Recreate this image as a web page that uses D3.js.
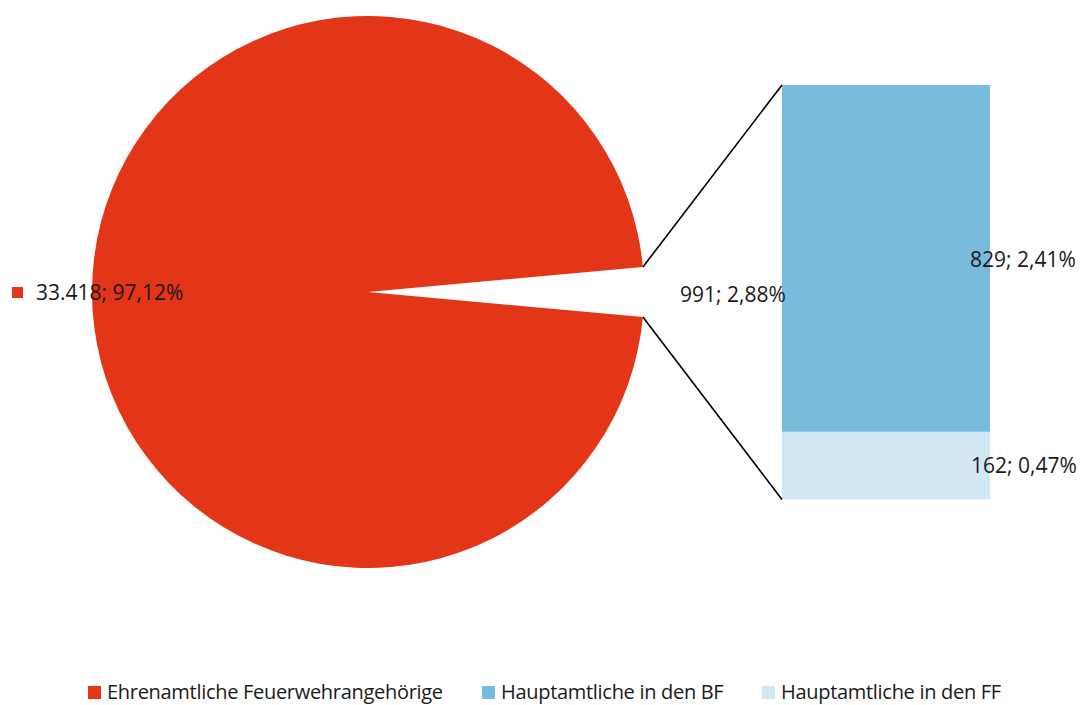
<!DOCTYPE html>
<html>
<head>
<meta charset="utf-8">
<script src="https://cdn.jsdelivr.net/npm/d3@7"></script>
<style>
  html, body { margin: 0; padding: 0; background: #fff; }
  svg { display: block; }
  text { font-family: "Open Sans", "Noto Sans", sans-serif; fill: #1a1a1a; }
</style>
</head>
<body>
<svg id="chart" width="1081" height="705"></svg>
<script>
// Feuerwehrangehörige: Ehrenamtliche vs. Hauptamtliche (BF / FF)
const pieCategories = ["Ehrenamtliche Feuerwehrangehörige", "Hauptamtliche"];
const pieValues = [33418, 991];
const pieLabels = ["33.418; 97,12%", "991; 2,88%"];

const barCategories = ["Hauptamtliche in den FF", "Hauptamtliche in den BF"];
const barValues = [162, 829];
const barLabels = ["162; 0,47%", "829; 2,41%"];

const legendLabels = ["Ehrenamtliche Feuerwehrangehörige", "Hauptamtliche in den BF", "Hauptamtliche in den FF"];
const colors = {
  "Ehrenamtliche Feuerwehrangehörige": "#e33618",
  "Hauptamtliche in den BF": "#78bbdd",
  "Hauptamtliche in den FF": "#d2e7f4"
};

const svg = d3.select("#chart");
const cx = 368, cy = 292, r = 276;

// Pie: the small slice is centred on the right and split out into the bar
const total = d3.sum(pieValues);
const smallFrac = pieValues[1] / total;
const start = Math.PI / 2 + smallFrac * Math.PI;
const pie = d3.pie().sort(null).startAngle(start).endAngle(start + 2 * Math.PI);
const arcs = pie(pieValues);
const arc = d3.arc().innerRadius(0).outerRadius(r);

const g = svg.append("g").attr("transform", `translate(${cx},${cy})`);
g.append("path")
  .attr("d", arc(arcs[0]))
  .attr("fill", colors[pieCategories[0]]);

// Bar of pie
const barX = 782, barW = 208;
const y = d3.scaleLinear().domain([0, d3.sum(barValues)]).range([499.5, 85]);
let acc = 0;
const stacks = barValues.map((v, i) => {
  const s = { cat: barCategories[i], y0: acc, y1: acc + v, label: barLabels[i] };
  acc += v;
  return s;
});
svg.selectAll("rect.seg").data(stacks).join("rect")
  .attr("class", "seg")
  .attr("x", barX)
  .attr("width", barW)
  .attr("y", d => y(d.y1))
  .attr("height", d => y(d.y0) - y(d.y1))
  .attr("fill", d => colors[d.cat]);

// Connector lines from the cut-out slice to the bar
const small = arcs[1];
const pt = a => [cx + r * Math.sin(a), cy - r * Math.cos(a)];
const a1 = pt(small.startAngle), a2 = pt(small.endAngle);
const upper = a1[1] < a2[1] ? a1 : a2;
const lower = a1[1] < a2[1] ? a2 : a1;
svg.append("line").attr("x1", upper[0]).attr("y1", upper[1])
  .attr("x2", barX).attr("y2", y(d3.sum(barValues)))
  .attr("stroke", "#000").attr("stroke-width", 1.6);
svg.append("line").attr("x1", lower[0]).attr("y1", lower[1])
  .attr("x2", barX).attr("y2", y(0))
  .attr("stroke", "#000").attr("stroke-width", 1.6);

// Data labels
const fs = 21;
svg.append("rect").attr("x", 12).attr("y", 287).attr("width", 11).attr("height", 11)
  .attr("fill", colors[pieCategories[0]]);
svg.append("text").attr("x", 36).attr("y", 300).attr("font-size", fs).text(pieLabels[0]);
svg.append("text").attr("x", 680).attr("y", 302).attr("font-size", fs).text(pieLabels[1]);
svg.append("text").attr("x", 970).attr("y", 267).attr("font-size", fs).text(stacks[1].label);
svg.append("text").attr("x", 971).attr("y", 473).attr("font-size", fs).text(stacks[0].label);

// Legend
const legendX = [88, 482, 762];
const lg = svg.selectAll("g.leg").data(legendLabels).join("g")
  .attr("class", "leg")
  .attr("transform", (d, i) => `translate(${legendX[i]},686)`);
lg.append("rect").attr("width", 13).attr("height", 13).attr("fill", d => colors[d]);
lg.append("text").attr("x", 19).attr("y", 13).attr("font-size", 20)
  .attr("letter-spacing", -0.3).text(d => d);
</script>
</body>
</html>
